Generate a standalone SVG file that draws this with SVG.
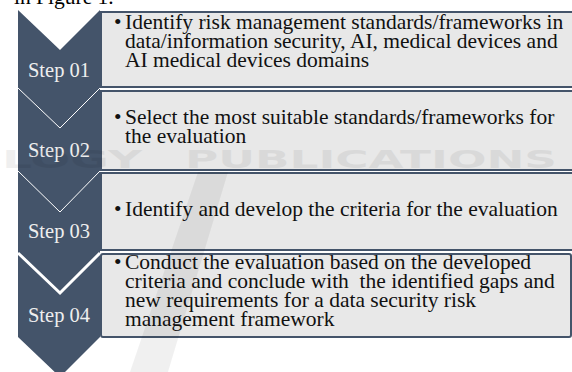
<svg xmlns="http://www.w3.org/2000/svg" width="572" height="372" viewBox="0 0 572 372">
  <style>
    .step { font-family: "Liberation Serif", "Times New Roman", serif; font-size: 20.5px; fill: #eeeeee; text-anchor: middle; }
    .body { font-family: "Liberation Serif", "Times New Roman", serif; font-size: 21.5px; fill: #111111; }
    .box { fill: #e8e8e8; stroke: #44546a; stroke-width: 2; }
    .sep { fill: none; stroke: #ffffff; stroke-width: 1; }
    .mark { fill: #000000; opacity: 0.06; }
    .marktext { font-family: "DejaVu Sans", sans-serif; font-weight: bold; font-size: 24px; }
  </style>

  <rect width="572" height="372" fill="#ffffff"/>

  <!-- running text above the figure -->
  <text class="body" x="14" y="4" style="fill:#000">in Figure 1.</text>

  <!-- step column -->
  <g id="column">
    <polygon points="18,10 60,50 100,10 100,337 60,377 18,337" fill="#44546a"/>
  </g>

  <g id="connectors">
    <polyline class="sep" points="18,88 60,128 100,88"/>
    <polyline class="sep" points="18,171 60,212 100,171"/>
    <polyline class="sep" points="18,253 60,293 100,253" style="stroke-width:3"/>
  </g>

  <g id="step01">
    <rect class="box" x="101" y="12" width="475" height="75"/>
    <text class="step" x="59" y="77">Step 01</text>
    <text class="body" x="114" y="29">•</text>
    <text class="body" x="125" y="29">Identify risk management standards/frameworks in</text>
    <text class="body" x="125" y="48">data/information security, AI, medical devices and</text>
    <text class="body" x="125" y="67">AI medical devices domains</text>
  </g>

  <g id="step02">
    <rect class="box" x="101" y="91" width="475" height="79"/>
    <text class="step" x="59" y="157">Step 02</text>
    <text class="body" x="114" y="124">•</text>
    <text class="body" x="125" y="124">Select the most suitable standards/frameworks for</text>
    <text class="body" x="125" y="143">the evaluation</text>
  </g>

  <g id="step03">
    <rect class="box" x="101" y="173" width="475" height="77"/>
    <text class="step" x="59" y="238">Step 03</text>
    <text class="body" x="114" y="216">•</text>
    <text class="body" x="125" y="216">Identify and develop the criteria for the evaluation</text>
  </g>

  <g id="step04">
    <rect class="box" x="101" y="254" width="470" height="83" rx="2"/>
    <text class="step" x="59" y="322">Step 04</text>
    <text class="body" x="114" y="269">•</text>
    <text class="body" x="125" y="269">Conduct the evaluation based on the developed</text>
    <text class="body" x="125" y="288" xml:space="preserve">criteria and conclude with  the identified gaps and</text>
    <text class="body" x="125" y="307">new requirements for a data security risk</text>
    <text class="body" x="125" y="326">management framework</text>
  </g>

  <!-- faint publisher watermark laid over the page -->
  <g id="watermark">
    <text class="mark marktext" x="2" y="168" textLength="140" lengthAdjust="spacingAndGlyphs">LOGY</text>
    <text class="mark marktext" x="185" y="168" textLength="372" lengthAdjust="spacingAndGlyphs">PUBLICATIONS</text>
    <polygon class="mark" points="198,172 228,172 168,372 130,372"/>
  </g>
</svg>
